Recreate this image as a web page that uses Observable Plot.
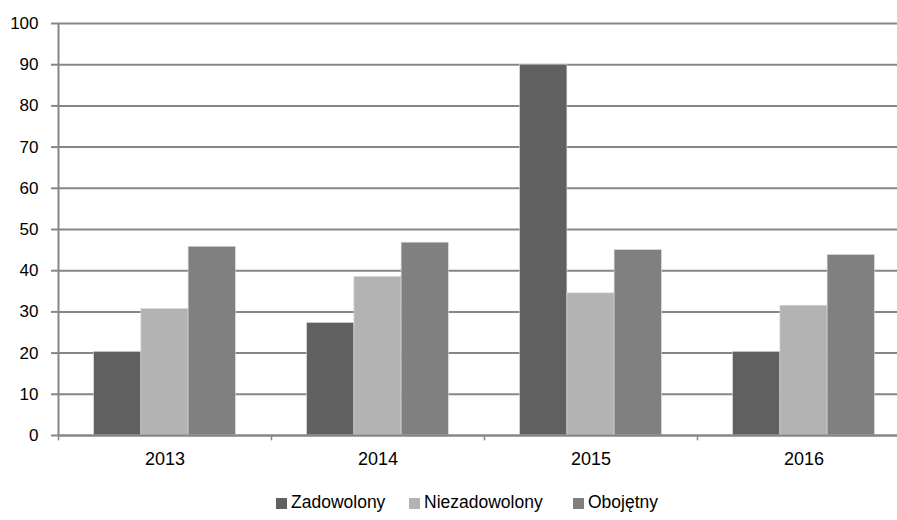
<!DOCTYPE html>
<html>
<head>
<meta charset="utf-8">
<script src="https://cdn.jsdelivr.net/npm/d3@7"></script>
<script src="https://cdn.jsdelivr.net/npm/@observablehq/plot@0.6"></script>
<style>
  html, body { margin: 0; padding: 0; background: #fff; overflow: hidden; }
  #chart { width: 897px; height: 485px; overflow: hidden; }
  #chart svg { max-width: none; }
  .legend { position: relative; width: 897px; height: 35px; font: 17.5px "Liberation Sans", Arial, sans-serif; color: #000; }
  .legend .item { position: absolute; top: 0; height: 35px; display: flex; align-items: center; white-space: nowrap; }
  .legend .sw { width: 11px; height: 11px; margin-right: 4px; margin-top: 2px; }
</style>
</head>
<body>
<div id="chart"></div>
<script>
const years = ["2013", "2014", "2015", "2016"];
const series = ["Zadowolony", "Niezadowolony", "Obojętny"];
const zadowolony = [20.3, 27.3, 90, 20.3];
const niezadowolony = [30.7, 38.5, 34.5, 31.5];
const obojetny = [45.8, 46.8, 45, 43.8];
const colors = ["#606060", "#b3b3b3", "#808080"];
const yTicks = [0, 10, 20, 30, 40, 50, 60, 70, 80, 90, 100];

const values = [zadowolony, niezadowolony, obojetny];
const data = [];
years.forEach((yr, i) => series.forEach((s, j) => data.push({year: yr, series: s, value: values[j][i]})));

const W = 910, H = 485, mL = 58, mR = 0, mT = 23, mB = 50;
const paddingOuter = 0.755;
const facetW = (W - mL - mR) / years.length;
const step = facetW / (series.length + 2 * paddingOuter);
const edgeOffset = step * paddingOuter + step / 2;

const axisFont = '"Liberation Sans", Arial, sans-serif';
const chart = Plot.plot({
  width: W, height: H,
  marginLeft: mL, marginRight: mR, marginTop: mT, marginBottom: mB,
  style: {fontFamily: axisFont, fontSize: "18px", color: "#000", background: "#fff"},
  fx: {domain: years, padding: 0, round: false, label: null},
  x: {domain: series, paddingInner: 0, paddingOuter: paddingOuter, round: false, axis: null},
  y: {domain: [0, 100], label: null},
  color: {domain: series, range: colors},
  marks: [
    Plot.gridY(yTicks, {stroke: "#868686", strokeOpacity: 1, strokeWidth: 2}),
    Plot.barY(data, {fx: "year", x: "series", y: "value", fill: "series", stroke: "#d9d9d9", strokeWidth: 0.6}),
    Plot.ruleY([0], {stroke: "#868686", strokeWidth: 2}),
    Plot.ruleX(data.filter(d => d.series === series[0]), {fx: "year", x: "series", y1: 0, y2: -1.3, dx: -edgeOffset, stroke: "#868686", strokeWidth: 1.5}),
    Plot.ruleX(data.filter(d => d.series === series[0] && d.year === years[0]), {fx: "year", x: "series", y1: 0, y2: 100, dx: -edgeOffset, stroke: "#868686", strokeWidth: 2}),
    Plot.axisY(yTicks, {tickSize: 7, tickPadding: 13, stroke: "#868686", strokeWidth: 2, fontSize: 17, fill: "#000", label: null}),
    Plot.axisFx({anchor: "bottom", tickSize: 0, tickPadding: 17, fontSize: 18, fill: "#000", label: null})
  ]
});
document.getElementById("chart").appendChild(chart);

const legendLeft = [276, 409, 573];
const legend = document.createElement("div");
legend.className = "legend";
series.forEach((s, j) => {
  const it = document.createElement("div");
  it.className = "item";
  it.style.left = legendLeft[j] + "px";
  const sw = document.createElement("div");
  sw.className = "sw";
  sw.style.background = colors[j];
  const t = document.createElement("span");
  t.textContent = s;
  it.appendChild(sw); it.appendChild(t);
  legend.appendChild(it);
});
document.body.appendChild(legend);
</script>
</body>
</html>
